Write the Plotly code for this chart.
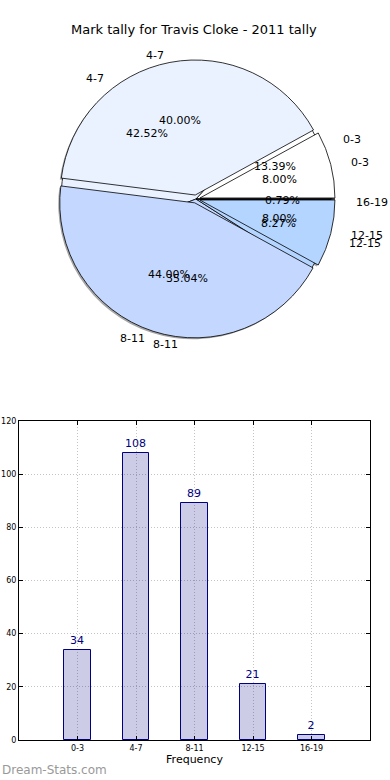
import math
import plotly.graph_objects as go

# ---- data ----
categories = ["0-3", "4-7", "8-11", "12-15", "16-19"]
counts = [34, 108, 89, 21, 2]                 # this player's 2011 tally
compare_pct = [8.0, 40.0, 44.0, 8.0, 0.0]     # second (overlaid) pie
slice_colors = ["#ffffff", "#eaf2ff", "#c4d8ff", "#b3d5ff", "#3a3a3a"]
title_text = "Mark tally for Travis Cloke - 2011 tally"
y_ticks = [0, 20, 40, 60, 80, 100, 120]

W, H = 390, 780
def px(x): return x / W
def py(y): return 1 - y / H

# pie geometry (pixels)
CX, CY = 196, 199
R = 135
PULL = 0.03
RX_T, RY_T = 144, 133   # text placement radii

fig = go.Figure()

def dom(cx, cy, half):
    return dict(x=[px(cx - half), px(cx + half)], y=[py(cy + half), py(cy - half)])

def start_rot(values):
    # first slice starts at 3 o'clock and runs counter-clockwise
    return 90 - 360.0 * values[0] / sum(values)

common = dict(labels=categories, sort=False, direction="counterclockwise",
              textinfo="none", hoverinfo="skip", showlegend=False, automargin=False)

# shadow of the top pie
fig.add_trace(go.Pie(values=compare_pct, pull=[PULL]*5, rotation=start_rot(compare_pct),
                     domain=dom(CX - 1.5, CY + 1.5, R * (1 + PULL)),
                     marker=dict(colors=["rgba(60,60,60,0.45)"]*5, line=dict(width=0)),
                     **common))
# bottom pie (player tally)
fig.add_trace(go.Pie(values=counts, domain=dom(CX, CY, R), rotation=start_rot(counts),
                     marker=dict(colors=slice_colors, line=dict(color="black", width=0.8)),
                     **common))
# top pie (comparison)
fig.add_trace(go.Pie(values=compare_pct, pull=[PULL]*5, rotation=start_rot(compare_pct),
                     domain=dom(CX, CY, R * (1 + PULL)),
                     marker=dict(colors=slice_colors, line=dict(color="black", width=0.8)),
                     **common))

annotations = []
def pie_texts(values, show_zero):
    total = float(sum(values))
    start = 0.0
    for lab, v in zip(categories, values):
        frac = v / total
        if v == 0 and not show_zero:
            start += frac
            continue
        mid = (start + frac / 2) * 2 * math.pi
        c, s = math.cos(mid), math.sin(mid)
        lx, ly = CX + 1.1 * RX_T * c, CY - 1.1 * RY_T * s
        annotations.append(dict(x=px(lx), y=py(ly), xref="paper", yref="paper",
                                text=lab, showarrow=False,
                                xanchor="left" if c > 0 else "right", yanchor="middle",
                                font=dict(size=11, color="black", family="DejaVu Sans")))
        tx, ty = CX + 0.6 * RX_T * c, CY - 0.6 * RY_T * s
        annotations.append(dict(x=px(tx), y=py(ty), xref="paper", yref="paper",
                                text="%.2f%%" % (100 * frac), showarrow=False,
                                xanchor="center", yanchor="middle",
                                font=dict(size=11, color="black", family="DejaVu Sans")))
        start += frac

pie_texts(counts, True)
pie_texts(compare_pct, False)

annotations.append(dict(x=px(194), y=py(30), xref="paper", yref="paper", text=title_text,
                        showarrow=False, xanchor="center", yanchor="middle",
                        font=dict(size=13, color="black", family="DejaVu Sans")))
annotations.append(dict(x=0, y=py(770), xref="paper", yref="paper", text="Dream-Stats.com",
                        showarrow=False, xanchor="left", yanchor="middle",
                        font=dict(size=12, color="#999999", family="DejaVu Sans")))

# bar chart
fig.add_trace(go.Bar(x=categories, y=counts, width=0.45,
                     marker=dict(color="rgba(0,0,128,0.2)", line=dict(color="navy", width=1)),
                     text=[str(v) for v in counts], textposition="outside", cliponaxis=False,
                     textfont=dict(size=11, color="navy", family="DejaVu Sans"),
                     hoverinfo="skip", showlegend=False))

axis_common = dict(showline=True, mirror="allticks", linecolor="black", linewidth=1,
                   ticks="inside", ticklen=4, tickcolor="black",
                   showgrid=True, gridcolor="#c4c4c4", griddash="1px,2px", gridwidth=1,
                   tickfont=dict(size=8, color="black", family="DejaVu Sans"),
                   zeroline=False, fixedrange=True, automargin=False)

fig.update_layout(
    width=W, height=H, margin=dict(l=0, r=0, t=0, b=0, pad=0, autoexpand=False),
    paper_bgcolor="white", plot_bgcolor="white",
    annotations=annotations,
    xaxis=dict(domain=[px(19), px(370)], range=[-1, 5], type="category",
               title=dict(text="Frequency", font=dict(size=11, color="black", family="DejaVu Sans"),
                          standoff=2),
               **axis_common),
    yaxis=dict(domain=[py(740), py(421)], range=[0, 120], tickvals=y_ticks, **axis_common),
    bargap=0,
)

fig.write_html("out.html", config={"displayModeBar": False},
               post_script="document.body.style.margin='0';")
